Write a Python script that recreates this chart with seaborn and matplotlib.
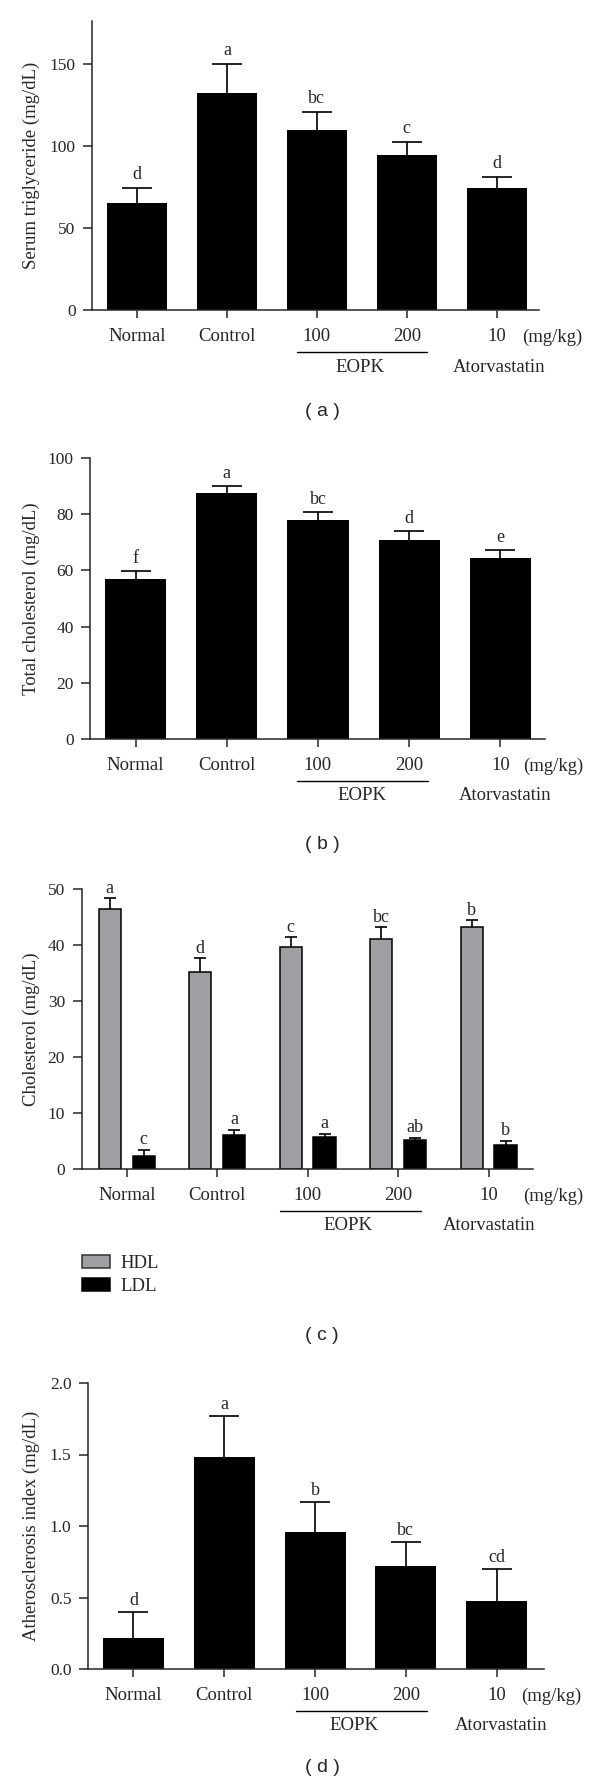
import numpy as np
import pandas as pd
import matplotlib
matplotlib.use("Agg")
import matplotlib.pyplot as plt
import matplotlib.transforms as mtransforms
from matplotlib.patches import Patch
import seaborn as sns

# ---------------- data ----------------
groups = ["Normal", "Control", "100", "200", "10"]

tg_mean = [65.0, 132.0, 109.5, 94.5, 74.0]
tg_se = [9.5, 18.0, 11.0, 8.0, 7.0]
tg_letters = ["d", "a", "bc", "c", "d"]

tc_mean = [56.8, 87.7, 78.0, 70.9, 64.3]
tc_se = [3.0, 2.3, 2.8, 3.0, 2.8]
tc_letters = ["f", "a", "bc", "d", "e"]

hdl_mean = [46.5, 35.1, 39.6, 41.1, 43.3]
hdl_se = [1.9, 2.5, 1.9, 2.1, 1.1]
hdl_letters = ["a", "d", "c", "bc", "b"]
ldl_mean = [2.4, 6.1, 5.8, 5.1, 4.2]
ldl_se = [1.0, 0.9, 0.5, 0.4, 0.8]
ldl_letters = ["c", "a", "a", "ab", "b"]

ai_mean = [0.217, 1.483, 0.958, 0.720, 0.478]
ai_se = [0.182, 0.286, 0.210, 0.170, 0.221]
ai_letters = ["d", "a", "b", "bc", "cd"]

# ---------------- style ----------------
sns.set_style("ticks")
plt.rcParams["font.family"] = ["Liberation Serif", "DejaVu Serif"]
plt.rcParams["axes.linewidth"] = 1.1

W, H = 600, 1786
DPI = 100
fig = plt.figure(figsize=(W / DPI, H / DPI), dpi=DPI)
PT = 72.0 / DPI  # px -> pt

HDL_COLOR = "#a09fa4"
TICK_FS = 13.5
YTICK_FS = 12.5
LETTER_FS = 13


def make_ax(left, right, top, bottom):
    return fig.add_axes([left / W, 1 - bottom / H, (right - left) / W, (bottom - top) / H])


def style_ax(ax, xlim, ylim, yticks, ylabel, fmt=None):
    ax.set_xlim(*xlim)
    ax.set_ylim(*ylim)
    ax.set_yticks(yticks)
    if fmt:
        ax.set_yticklabels([fmt % v for v in yticks])
    ax.set_xticks(range(len(groups)))
    ax.set_xticklabels(groups)
    sns.despine(ax=ax)
    ax.tick_params(axis="x", length=8 * PT, width=1.1, pad=7.5, labelsize=TICK_FS, direction="out")
    ax.tick_params(axis="y", length=9.5 * PT, width=1.1, pad=5.0, labelsize=YTICK_FS, direction="out")
    ax.set_xlabel("")
    ax.set_ylabel(ylabel, fontsize=13.5)
    tr = mtransforms.blended_transform_factory(fig.transFigure, ax.transAxes)
    ax.yaxis.set_label_coords(31 / W, 0.5, transform=tr)
    ax.yaxis.label.set_verticalalignment("center")


def bottom_texts(ax, mgkg_x, line_x, eopk_x, atorv_x, panel_label, label_y):
    xt = ax.get_xaxis_transform()
    ax.annotate("(mg/kg)", xy=(mgkg_x, 0), xycoords=xt,
                xytext=(0, -(8 + 7.5 / PT) * PT), textcoords="offset points",
                ha="center", va="top", fontsize=TICK_FS, annotation_clip=False)
    off = mtransforms.ScaledTranslation(0, -42 / DPI, fig.dpi_scale_trans)
    ax.plot(line_x, [0, 0], transform=xt + off, color="black", lw=1.0, clip_on=False)
    ax.annotate("EOPK", xy=(eopk_x, 0), xycoords=xt, xytext=(0, -57 * PT),
                textcoords="offset points", ha="center", va="center",
                fontsize=TICK_FS, annotation_clip=False)
    ax.annotate("Atorvastatin", xy=(atorv_x, 0), xycoords=xt, xytext=(0, -57 * PT),
                textcoords="offset points", ha="center", va="center",
                fontsize=TICK_FS, annotation_clip=False)
    fig.text(322 / W, 1 - label_y / H, "( %s )" % panel_label, ha="center", va="center",
             fontsize=14, family=["Liberation Sans", "DejaVu Sans"])


def add_err(ax, xs, means, se, letters, capsize, gap_px):
    eb = ax.errorbar(xs, means, yerr=[np.zeros(len(se)), se], fmt="none", ecolor="black",
                     elinewidth=1.2, capsize=capsize, capthick=1.2, zorder=3)
    caps = eb[1]
    if len(caps) == 2:
        caps[0].set_visible(False)  # only the upper cap is drawn
    for x, m, s, t in zip(xs, means, se, letters):
        ax.annotate(t, xy=(x, m + s), xytext=(0, gap_px * PT), textcoords="offset points",
                    ha="center", va="baseline", fontsize=LETTER_FS, annotation_clip=False)


def single_panel(box, means, se, letters, xlim, ylim, yticks, ylabel, fmt, texts, gap_px):
    ax = make_ax(*box)
    df = pd.DataFrame({"group": groups, "value": means})
    sns.barplot(data=df, x="group", y="value", order=groups, color="black",
                saturation=1, width=0.67, errorbar=None, edgecolor="black",
                linewidth=0, ax=ax)
    xs = [p.get_x() + p.get_width() / 2 for p in ax.containers[0]]
    add_err(ax, xs, means, se, letters, 10.8, gap_px)
    style_ax(ax, xlim, ylim, yticks, ylabel, fmt)
    bottom_texts(ax, *texts)
    return ax


# (a) triglyceride
single_panel((92, 539, 21, 310), tg_mean, tg_se, tg_letters, (-0.5, 4.47), (0, 176),
             [0, 50, 100, 150], "Serum triglyceride (mg/dL)", None,
             (4.62, [1.78, 3.22], 2.48, 4.03, "a", 412), 9)

# (b) total cholesterol
single_panel((90, 545, 458, 739), tc_mean, tc_se, tc_letters, (-0.5, 4.49), (0, 100),
             [0, 20, 40, 60, 80, 100], "Total cholesterol (mg/dL)", None,
             (4.58, [1.77, 3.21], 2.48, 4.05, "b", 845), 8)

# (c) HDL / LDL
axc = make_ax(81.5, 533, 889, 1169)
dfc = pd.DataFrame({"group": groups * 2,
                    "lipid": ["HDL"] * len(groups) + ["LDL"] * len(groups),
                    "value": hdl_mean + ldl_mean})
sns.barplot(data=dfc, x="group", y="value", hue="lipid", order=groups,
            hue_order=["HDL", "LDL"], palette={"HDL": HDL_COLOR, "LDL": "black"},
            saturation=1, width=0.75, gap=0.34, errorbar=None, edgecolor="black",
            linewidth=1.1, legend=False, ax=axc)
xs_h = [p.get_x() + p.get_width() / 2 for p in axc.containers[0]]
xs_l = [p.get_x() + p.get_width() / 2 for p in axc.containers[1]]
add_err(axc, xs_h, hdl_mean, hdl_se, hdl_letters, 4.6, 5)
add_err(axc, xs_l, ldl_mean, ldl_se, ldl_letters, 4.6, 6)
style_ax(axc, (-0.5, 4.49), (0, 50), [0, 10, 20, 30, 40, 50], "Cholesterol (mg/dL)")
bottom_texts(axc, 4.71, [1.69, 3.25], 2.45, 4.0, "c", 1335)
fig.legend(handles=[Patch(facecolor=HDL_COLOR, edgecolor="#333333", linewidth=1.1),
                    Patch(facecolor="black", edgecolor="black", linewidth=1.1)],
           labels=["HDL", "LDL"], loc="upper left",
           bbox_to_anchor=(82 / W, 1 - 1255 / H), frameon=False, fontsize=13.5,
           handlelength=1.5, handleheight=0.7, handletextpad=0.55,
           labelspacing=0.3, borderpad=0, borderaxespad=0)

# (d) atherosclerosis index
single_panel((88, 544, 1383, 1669), ai_mean, ai_se, ai_letters, (-0.5, 4.52), (0, 2.0),
             [0.0, 0.5, 1.0, 1.5, 2.0], "Atherosclerosis index (mg/dL)", "%.1f",
             (4.60, [1.79, 3.23], 2.43, 4.05, "d", 1768), 7)

fig.savefig("out.png", dpi=DPI)
